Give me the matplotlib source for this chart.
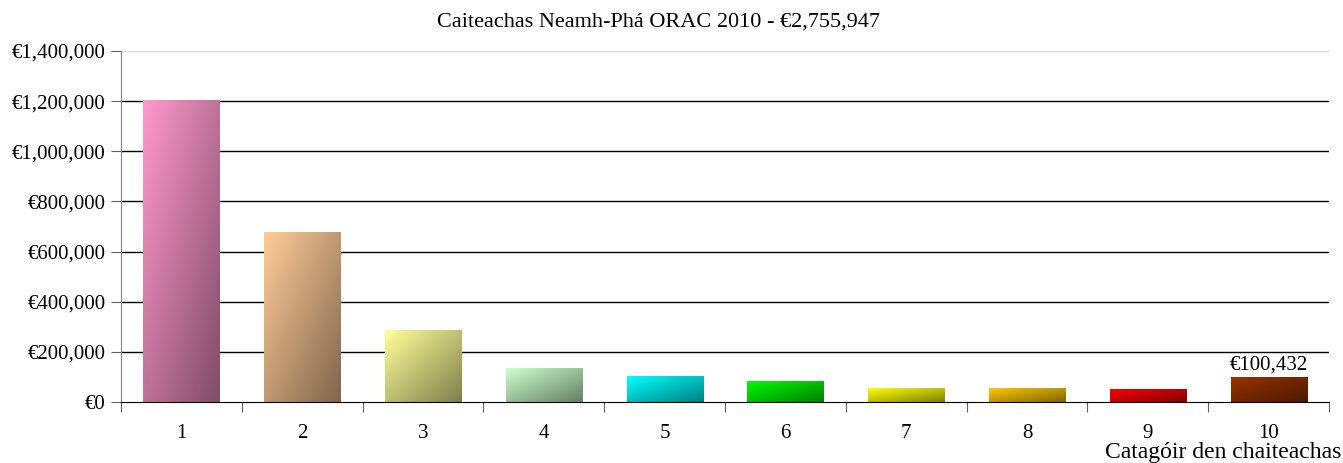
import matplotlib
matplotlib.use("Agg")
import matplotlib.pyplot as plt
import matplotlib.colors as mcolors
import numpy as np

# chart data
categories = ["1", "2", "3", "4", "5", "6", "7", "8", "9", "10"]
spend = [1204000, 678000, 287000, 135600, 103700, 83800, 55800, 56000, 52000, 100432]
bar_colors = ["#FF99CC", "#FFCC99", "#FFFF99", "#CCFFCC", "#00FFFF",
              "#00FF00", "#FFFF00", "#FFCC00", "#FF0000", "#993300"]
y_ticks = [0, 200000, 400000, 600000, 800000, 1000000, 1200000, 1400000]
title = "Caiteachas Neamh-Phá ORAC 2010 - €2,755,947"
x_label = "Catagóir den chaiteachas"

plt.rcParams['font.family'] = ['Liberation Serif', 'DejaVu Serif']


def euro(v):
    return f"€{v:,.0f}"


def gradient_bar(ax, bar, color):
    """Fill a bar with a diagonal light-to-dark gradient."""
    x0, y0 = bar.get_x(), bar.get_y()
    w, h = bar.get_width(), bar.get_height()
    light = np.array(mcolors.to_rgb(color))
    dark = light * 0.5
    n = 64
    xx, yy = np.meshgrid(np.linspace(0, 1, n), np.linspace(0, 1, n))
    t = (xx + yy) / 2  # origin='upper' -> row 0 is top
    img = light[None, None, :] * (1 - t[..., None]) + dark[None, None, :] * t[..., None]
    im = ax.imshow(img, extent=(x0, x0 + w, y0, y0 + h), origin='upper',
                   aspect='auto', zorder=3, interpolation='bilinear')
    im.set_clip_path(bar)
    bar.set_facecolor('none')


fig = plt.figure(figsize=(13.43, 4.63), dpi=100)
ax = fig.add_axes([0.0901, 0.1317, 0.8995, 0.7581])

x = np.arange(1, len(categories) + 1)
bars = ax.bar(x, spend, width=0.63, zorder=3, linewidth=0)
for b, c in zip(bars, bar_colors):
    gradient_bar(ax, b, c)

ax.set_xlim(0.5, len(categories) + 0.5)
ax.set_ylim(0, 1400000)

# gridlines
for v in y_ticks[1:-1]:
    ax.axhline(v, color='black', linewidth=1.0, zorder=1)
ax.axhline(y_ticks[-1], color='#d9d9d9', linewidth=1.0, zorder=1)

ax.set_yticks(y_ticks)
ax.set_yticklabels([euro(v) for v in y_ticks], fontsize=15)
ax.tick_params(axis='y', direction='out', length=7, color='#606060', pad=4)

# category boundaries as major ticks, labels on minor ticks
ax.set_xticks(np.arange(0.5, len(categories) + 1, 1.0))
ax.set_xticklabels([])
ax.set_xticks(x, minor=True)
ax.set_xticklabels(categories, minor=True, fontsize=15)
ax.tick_params(axis='x', which='major', direction='out', length=7, color='#606060')
ax.tick_params(axis='x', which='minor', length=0, pad=16)

for s in ['top', 'right']:
    ax.spines[s].set_visible(False)
ax.spines['left'].set_color('#808080')
ax.spines['bottom'].set_color('black')
ax.spines['bottom'].set_zorder(4)

# value label on last bar
ax.text(x[-1], spend[-1] + 8000, euro(spend[-1]), ha='center', va='bottom', fontsize=15)

fig.text(0.49, 0.952, title, ha='center', va='center', fontsize=16)
fig.text(0.9985, 0.022, x_label, ha='right', va='center', fontsize=17)

fig.savefig("out.png", dpi=100)
